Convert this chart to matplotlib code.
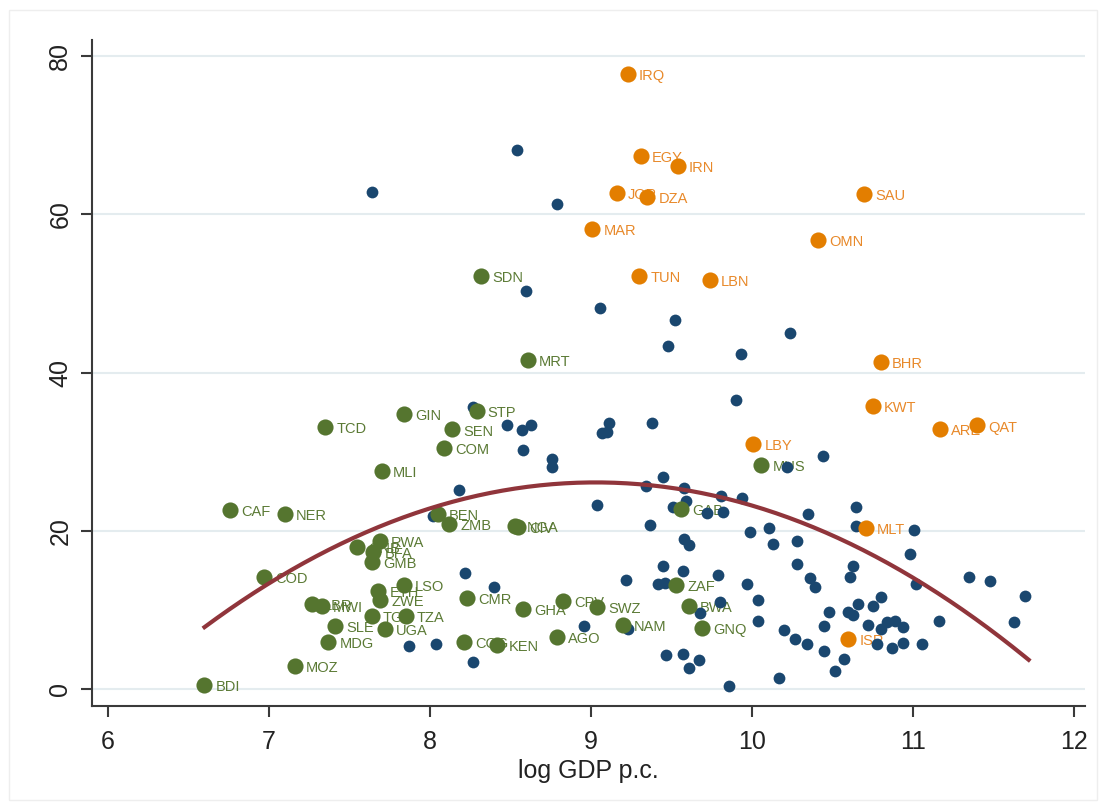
import numpy as np
import matplotlib
matplotlib.use("Agg")
import matplotlib.pyplot as plt
from matplotlib.patches import Rectangle

# MENA countries (orange)
mena_names = ["IRQ", "EGY", "IRN", "JOR", "DZA", "SAU", "MAR", "OMN", "TUN", "LBN",
              "BHR", "KWT", "ARE", "QAT", "LBY", "MLT", "ISR"]
mena_x = [9.23, 9.31, 9.54, 9.16, 9.35, 10.70, 9.01, 10.41, 9.30, 9.74,
          10.80, 10.75, 11.17, 11.40, 10.01, 10.71, 10.60]
mena_y = [77.7, 67.4, 66.1, 62.7, 62.2, 62.6, 58.2, 56.8, 52.2, 51.7,
          41.3, 35.8, 32.9, 33.3, 31.0, 20.3, 6.3]

# Sub-Saharan Africa (green)
ssa_names = ["SDN", "MRT", "TCD", "GIN", "STP", "SEN", "COM", "MLI", "CAF", "NER",
             "BEN", "ZMB", "NGA", "CIV", "GAB", "MUS", "RWA", "GNB", "BFA", "GMB",
             "COD", "LSO", "ETH", "ZWE", "LBR", "MWI", "TGO", "TZA", "SLE", "UGA",
             "MDG", "MOZ", "BDI", "CMR", "GHA", "CPV", "SWZ", "NAM", "AGO", "COG",
             "KEN", "ZAF", "BWA", "GNQ"]
ssa_x = [8.32, 8.61, 7.35, 7.84, 8.29, 8.14, 8.09, 7.70, 6.76, 7.10,
         8.05, 8.12, 8.53, 8.55, 9.56, 10.06, 7.69, 7.55, 7.65, 7.64,
         6.97, 7.84, 7.68, 7.69, 7.27, 7.33, 7.64, 7.85, 7.41, 7.72,
         7.37, 7.16, 6.60, 8.23, 8.58, 8.83, 9.04, 9.20, 8.79, 8.21,
         8.42, 9.53, 9.61, 9.69]
ssa_y = [52.2, 41.6, 33.1, 34.8, 35.1, 32.8, 30.4, 27.6, 22.6, 22.1,
         22.1, 20.8, 20.6, 20.5, 22.8, 28.3, 18.7, 17.9, 17.3, 16.0,
         14.1, 13.1, 12.4, 11.2, 10.7, 10.5, 9.2, 9.2, 8.0, 7.6,
         5.9, 2.9, 0.5, 11.5, 10.1, 11.1, 10.3, 8.1, 6.6, 5.9,
         5.6, 13.1, 10.5, 7.7]

# other countries (blue, unlabelled)
oth_x = [8.54, 7.64, 8.79, 8.60, 9.06, 9.52, 9.48, 10.24, 9.93, 9.90,
         8.27, 8.48, 8.57, 8.63, 8.58, 8.76, 8.76, 9.11, 9.07, 9.10, 9.38,
         10.44, 10.22,
         8.18, 8.02, 9.04, 9.34, 9.45, 9.58, 9.59, 9.51, 9.72, 9.37, 9.58, 9.61,
         9.82, 9.81, 9.94,
         9.99, 10.11, 10.13, 10.28, 10.28,
         10.65, 10.35, 10.65, 11.01, 10.98,
         10.63, 10.61, 10.36, 10.39, 11.02, 11.35, 11.48, 11.70,
         10.80, 10.75, 10.66, 10.48, 10.60, 10.63,
         10.34, 10.45, 10.45, 10.57, 10.52,
         10.72, 10.80, 10.84, 10.89, 10.94, 10.78, 10.87, 10.94, 11.06, 11.16, 11.63,
         9.45, 9.57, 9.22, 9.42, 9.46, 9.79, 9.97, 10.04, 9.80, 9.68, 10.04, 10.20, 10.27,
         8.96, 9.23, 9.47, 9.57, 9.67, 9.61, 9.86, 10.17,
         8.22, 8.04, 7.87, 8.27, 8.40]
oth_y = [68.1, 62.8, 61.3, 50.3, 48.2, 46.6, 43.4, 45.0, 42.4, 36.5,
         35.7, 33.4, 32.7, 33.3, 30.2, 29.0, 28.0, 33.6, 32.3, 32.5, 33.6,
         29.4, 28.1,
         25.2, 21.8, 23.2, 25.7, 26.8, 25.4, 23.7, 23.0, 22.2, 20.7, 18.9, 18.2,
         22.3, 24.4, 24.1,
         19.8, 20.3, 18.3, 18.7, 15.8,
         23.0, 22.1, 20.6, 20.1, 17.0,
         15.5, 14.1, 14.0, 12.9, 13.2, 14.1, 13.6, 11.7,
         11.6, 10.5, 10.7, 9.7, 9.7, 9.3,
         5.7, 8.0, 4.8, 3.8, 2.3,
         8.1, 7.6, 8.5, 8.6, 7.8, 5.7, 5.2, 5.8, 5.7, 8.6, 8.5,
         15.5, 14.9, 13.8, 13.2, 13.4, 14.4, 13.2, 11.2, 11.0, 9.6, 8.6, 7.4, 6.3,
         8.0, 7.6, 4.3, 4.4, 3.7, 2.6, 0.4, 1.4,
         14.6, 5.7, 5.4, 3.4, 12.9]

# quadratic fit: y = a*(x - x0)^2 + y0
fit_a, fit_x0, fit_y0 = -3.1, 9.03, 26.1
fit_range = [6.6, 11.72]

x_ticks = [6, 7, 8, 9, 10, 11, 12]
y_ticks = [0, 20, 40, 60, 80]

blue = "#1a476f"
green = "#55752f"
orange = "#e37e00"
maroon = "#90353b"

plt.rcParams["font.family"] = ["Liberation Sans", "DejaVu Sans"]

fig = plt.figure(figsize=(11.06, 8.08), dpi=100)
ax = fig.add_axes([0.083, 0.126, 0.898, 0.824])
fig.patches.append(Rectangle((0.008, 0.01), 0.984, 0.978, transform=fig.transFigure,
                             fill=False, edgecolor="#eeeeee", linewidth=1))

ax.set_xlim(5.9, 12.07)
ax.set_ylim(-2.2, 82)
for yt in y_ticks:
    ax.axhline(yt, color="#e4ecef", linewidth=1.5, zorder=0)

ax.scatter(oth_x, oth_y, s=72, color=blue, linewidths=0, zorder=3)
ax.scatter(ssa_x, ssa_y, s=135, color=green, linewidths=0, zorder=4)
ax.scatter(mena_x, mena_y, s=135, color=orange, linewidths=0, zorder=4)

for names, xs, ys, c in [(ssa_names, ssa_x, ssa_y, "#5b7a35"),
                         (mena_names, mena_x, mena_y, "#e8892a")]:
    for n, x, y in zip(names, xs, ys):
        ax.annotate(n, (x, y), xytext=(8, -1.5), textcoords="offset points",
                    ha="left", va="center", fontsize=10.5, color=c, zorder=2)

xf = np.linspace(fit_range[0], fit_range[1], 200)
ax.plot(xf, fit_a * (xf - fit_x0) ** 2 + fit_y0, color=maroon, linewidth=3, zorder=5)

for s in ["top", "right"]:
    ax.spines[s].set_visible(False)
for s in ["left", "bottom"]:
    ax.spines[s].set_color("#3a3a3a")
    ax.spines[s].set_linewidth(1.5)

ax.set_xticks(x_ticks)
ax.set_yticks(y_ticks)
ax.set_xticklabels([str(t) for t in x_ticks], fontsize=18)
ax.set_yticklabels([str(t) for t in y_ticks], fontsize=18, rotation=90, va="center")
ax.tick_params(axis="both", direction="out", length=8, width=1.5, color="#3a3a3a",
               labelcolor="#222222")
ax.tick_params(axis="x", pad=9)
ax.tick_params(axis="y", pad=6)
ax.set_xlabel("log GDP p.c.", fontsize=18, color="#222222", labelpad=4)

fig.savefig("out.png", dpi=100)
